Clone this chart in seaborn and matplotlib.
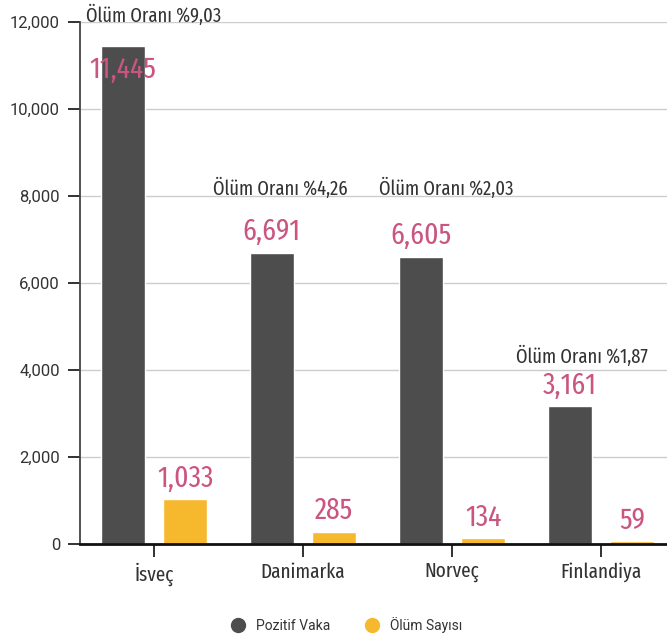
import os
import matplotlib
matplotlib.use("Agg")
import matplotlib.pyplot as plt
from matplotlib import font_manager as fm
from matplotlib.lines import Line2D
from matplotlib.ticker import FuncFormatter
import pandas as pd
import seaborn as sns

# ---------------- data ----------------
countries = ["İsveç", "Danimarka", "Norveç", "Finlandiya"]
positive_cases = [11445, 6691, 6605, 3161]
death_counts = [1033, 285, 134, 59]
death_rates = ["%9,03", "%4,26", "%2,03", "%1,87"]
series_names = ["Pozitif Vaka", "Ölüm Sayısı"]
y_ticks = [0, 2000, 4000, 6000, 8000, 10000, 12000]

# layout of the "Ölüm Oranı" notes (x offset in category units, y in data units)
rate_x_offsets = [0.0, -0.15, -0.04, -0.13]
rate_y = [12160, 8180, 8180, 4320]

GRAY = "#4d4d4d"
YELLOW = "#f6b92d"
PINK = "#c95580"
TEXT = "#333333"

df = pd.DataFrame({
    "country": countries * 2,
    "value": positive_cases + death_counts,
    "series": [series_names[0]] * 4 + [series_names[1]] * 4,
})

# ---------------- fonts ----------------
sns.set_theme(style="white")
names = {f.name for f in fm.fontManager.ttflist}
reg_family = "Roboto" if "Roboto" in names else "DejaVu Sans"
plt.rcParams["font.family"] = [reg_family, "DejaVu Sans"]


def pick_condensed():
    found = {}
    bad = ("bold", "light", "medium", "thin", "black", "italic", "oblique",
           "heavy", "mono", "serif", "display")
    for f in fm.fontManager.ttflist:
        fn = os.path.basename(f.fname).lower().replace("-", "").replace("_", "")
        nm = f.name.lower().replace(" ", "")
        txt = fn + " " + nm
        if any(b in fn for b in bad):
            continue
        if f.style != "normal":
            continue
        if isinstance(f.weight, int) and f.weight != 400:
            continue
        if isinstance(f.weight, str) and f.weight not in ("normal", "regular", "book"):
            continue
        if "extracondensed" in txt or "ultracondensed" in txt:
            key = "xc"
        elif "semicondensed" in txt:
            key = "sc"
        elif "condensed" in txt or "narrow" in txt:
            key = "c"
        else:
            continue
        pref = 0 if "roboto" in txt else 1
        found.setdefault(key, []).append((pref, f.fname))
    for key in ("xc", "c", "sc"):
        if key in found:
            return sorted(found[key])[0][1], key
    return None, None


cond_path, cond_kind = pick_condensed()


def cfont(size):
    if cond_path:
        scale = {"xc": 1.0, "c": 0.92, "sc": 0.85}[cond_kind]
        return fm.FontProperties(fname=cond_path, size=size * scale)
    return fm.FontProperties(family=[reg_family, "DejaVu Sans"], size=size * 0.78)


# ---------------- figure ----------------
W, H = 667, 638
fig = plt.figure(figsize=(W / 100, H / 100), dpi=100)
ax = fig.add_axes([79.5 / W, 94 / H, 596 / W, 522 / H])

sns.barplot(data=df, x="country", y="value", hue="series",
            palette=[GRAY, YELLOW], saturation=1, width=0.84, gap=0.3,
            legend=False, ax=ax)

ax.set_xlim(-0.5, 3.5)
ax.set_ylim(0, 12000)
ax.set_xlabel("")
ax.set_ylabel("")

ax.set_axisbelow(True)
ax.yaxis.grid(True, color="#cccccc", linewidth=1)
ax.xaxis.grid(False)
for s in ["top", "right"]:
    ax.spines[s].set_visible(False)
ax.spines["left"].set_color("#444444")
ax.spines["left"].set_linewidth(1.3)
ax.spines["bottom"].set_color("#111111")
ax.spines["bottom"].set_linewidth(2)

ax.set_yticks(y_ticks)
ax.yaxis.set_major_formatter(FuncFormatter(lambda v, p: f"{int(v):,}"))
ax.tick_params(axis="y", length=9, width=1.3, color="#222222", pad=5,
               labelsize=12, labelcolor=TEXT, left=True)
ax.tick_params(axis="x", length=9, width=1.3, color="#222222", pad=4,
               labelcolor=TEXT, bottom=True)
ax.set_xticks(range(len(countries)))
ax.set_xticklabels(countries)
for lab in ax.get_xticklabels():
    lab.set_fontproperties(cfont(15))

# ---------------- value labels ----------------
gray_bars, yellow_bars = ax.containers[0], ax.containers[1]
for bars, vals in ((gray_bars, positive_cases), (yellow_bars, death_counts)):
    for bar, v in zip(bars, vals):
        cx = bar.get_x() + bar.get_width() / 2
        top = bar.get_height()
        dy = 15
        if top + 1100 > ax.get_ylim()[1]:
            dy = -17
        ax.annotate(f"{v:,}", xy=(cx, top), xytext=(0, dy), textcoords="offset points",
                    ha="center", va="center", color=PINK, fontproperties=cfont(21.5),
                    annotation_clip=False)

# ---------------- death rate notes ----------------
for i, (r, dx, yy) in enumerate(zip(death_rates, rate_x_offsets, rate_y)):
    ax.text(i + dx, yy, f"Ölüm Oranı {r}", ha="center", va="center",
            fontproperties=cfont(14.5), color=TEXT, clip_on=False)

# ---------------- legend ----------------
handles = [Line2D([], [], marker="o", linestyle="", markersize=10,
                  markerfacecolor=c, markeredgecolor=c) for c in (GRAY, YELLOW)]
fig.legend(handles, series_names, loc="center", bbox_to_anchor=(0.515, 0.02),
           ncol=2, frameon=False, fontsize=10, handletextpad=0.3,
           columnspacing=2.0, labelcolor=TEXT)

fig.savefig("out.png", dpi=100)
